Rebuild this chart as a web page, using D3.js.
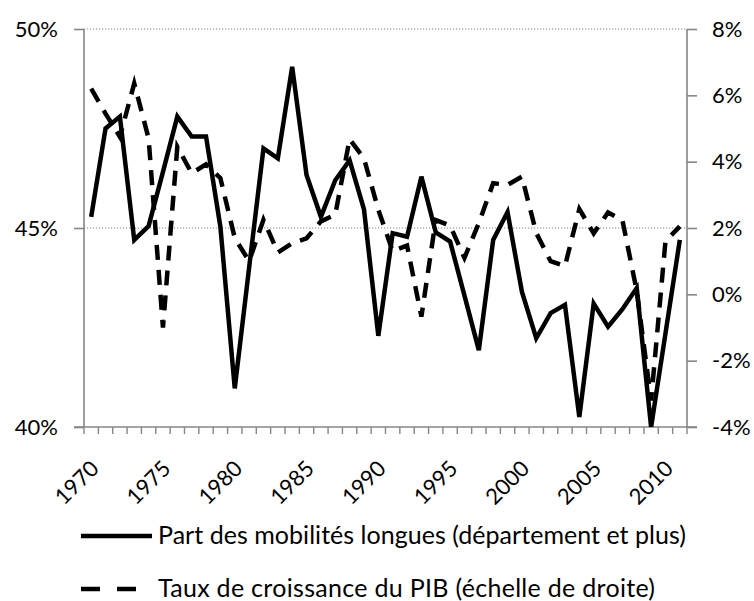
<!DOCTYPE html>
<html>
<head>
<meta charset="utf-8">
<script src="https://cdn.jsdelivr.net/npm/d3@7"></script>
<style>
  body { margin: 0; background: #fff; }
  text { font-family: Lato, "Open Sans", sans-serif; fill: #000; }
</style>
</head>
<body>
<div id="container"></div>
<script>
// years 1970 -> 2011
var years = d3.range(1970, 2012);

// part des mobilités longues (%), left axis
var partLongues = [
  45.28, 47.5, 47.8, 44.7, 45.05, 46.41, 47.8, 47.3, 47.3, 45.03,
  40.97, 44.0, 47.0, 46.75, 49.05, 46.33, 45.28, 46.2, 46.7, 45.47,
  42.29, 44.87, 44.78, 46.29, 44.89, 44.66, 43.3, 41.93, 44.7, 45.4,
  43.4, 42.23, 42.86, 43.07, 40.25, 43.1, 42.52, 42.96, 43.49, 40.0,
  42.35, 44.7
];

// taux de croissance du PIB (%), right axis
var croissancePib = [
  6.2, 5.45, 4.75, 6.36, 4.7, -1.0, 4.45, 3.65, 3.92, 3.5,
  1.7, 1.0, 2.25, 1.26, 1.54, 1.69, 2.2, 2.4, 4.68, 4.1,
  2.55, 1.3, 1.47, -0.67, 2.24, 2.07, 1.1, 2.15, 3.35, 3.3,
  3.55, 1.85, 1.0, 0.85, 2.57, 1.84, 2.47, 2.24, 0.1, -3.2,
  1.6, 2.05
];

var leftTicks = [40, 45, 50];
var rightTicks = [-4, -2, 0, 2, 4, 6, 8];
var labelYears = years.filter(function(y){ return y % 5 == 0; });

var legendLabels = [
  "Part des mobilités longues (département et plus)",
  "Taux de croissance du PIB (échelle de droite)"
];

var width = 754, height = 601;
// plot box (don't call it "top", window.top is taken)
var plotL = 84, plotR = 687, plotT = 29, plotB = 427;
var axisColor = "#868686";

var svg = d3.select("#container").append("svg")
  .attr("width", width)
  .attr("height", height);

var x = d3.scaleBand().domain(years).range([plotL, plotR]).padding(0);
var yLeft = d3.scaleLinear().domain([40, 50]).range([plotB, plotT]);
var yRight = d3.scaleLinear().domain([-4, 8]).range([plotB, plotT]);

function cx(d, i){ return x(years[i]) + x.bandwidth() / 2; }

// dotted gridlines (50% and 45%)
svg.append("g").selectAll("line")
  .data([45, 50])
  .enter().append("line")
  .attr("x1", plotL).attr("x2", plotR)
  .attr("y1", function(d){ return yLeft(d); })
  .attr("y2", function(d){ return yLeft(d); })
  .style("stroke", axisColor)
  .style("stroke-width", 1.2)
  .style("stroke-dasharray", "1.2,1.8");

// left axis
var gLeft = svg.append("g")
  .attr("transform", "translate(" + plotL + ",0)")
  .call(d3.axisLeft(yLeft).tickValues(leftTicks).tickSize(10).tickPadding(16)
    .tickFormat(function(d){ return d + "%"; }));

// right axis
var gRight = svg.append("g")
  .attr("transform", "translate(" + plotR + ",0)")
  .call(d3.axisRight(yRight).tickValues(rightTicks).tickSize(10).tickPadding(15)
    .tickFormat(function(d){ return d + "%"; }));

[gLeft, gRight].forEach(function(g){
  g.select(".domain").remove();
  g.selectAll(".tick line").style("stroke", axisColor).style("stroke-width", 1.6);
  g.selectAll(".tick text").style("font-size", "22px");
});

svg.append("line")
  .attr("x1", plotL).attr("x2", plotL).attr("y1", plotT).attr("y2", plotB)
  .style("stroke", axisColor).style("stroke-width", 1.6);
svg.append("line")
  .attr("x1", plotR).attr("x2", plotR).attr("y1", plotT).attr("y2", plotB)
  .style("stroke", axisColor).style("stroke-width", 1.6);

// bottom axis: ticks between categories
var boundaries = years.map(function(y){ return x(y); }).concat([plotR]);
svg.append("line")
  .attr("x1", plotL - 10).attr("x2", plotR + 10).attr("y1", plotB).attr("y2", plotB)
  .style("stroke", axisColor).style("stroke-width", 1.6);
svg.append("g").selectAll("line")
  .data(boundaries)
  .enter().append("line")
  .attr("x1", function(d){ return d; }).attr("x2", function(d){ return d; })
  .attr("y1", plotB).attr("y2", plotB + 7)
  .style("stroke", axisColor).style("stroke-width", 1.4);

var gBottom = svg.append("g")
  .attr("transform", "translate(0," + plotB + ")")
  .call(d3.axisBottom(x).tickValues(labelYears).tickSize(0).tickPadding(0));
gBottom.select(".domain").remove();
gBottom.selectAll(".tick text")
  .style("font-size", "22px")
  .style("text-anchor", "end")
  .attr("y", 0)
  .attr("dy", 0)
  .attr("transform", "translate(9,43) rotate(-45)");

// series lines
var lineLeft = d3.line()
  .x(cx)
  .y(function(d){ return yLeft(d); });
var lineRight = d3.line()
  .x(cx)
  .y(function(d){ return yRight(d); });

svg.append("defs").append("clipPath").attr("id", "plot")
  .append("rect").attr("x", plotL).attr("y", plotT - 3)
  .attr("width", plotR - plotL).attr("height", plotB - plotT + 3);

var plot = svg.append("g").attr("clip-path", "url(#plot)");

plot.append("path")
  .datum(croissancePib)
  .attr("d", lineRight)
  .style("fill", "none")
  .style("stroke", "#000")
  .style("stroke-width", 4.5)
  .style("stroke-dasharray", "15,10");

plot.append("path")
  .datum(partLongues)
  .attr("d", lineLeft)
  .style("fill", "none")
  .style("stroke", "#000")
  .style("stroke-width", 4.5)
  .style("stroke-linejoin", "miter");

// legend
var legend = svg.append("g");
var legendRows = [
  { y: 536, dash: null, x2: 152, tx: 158, len: 528 },
  { y: 589, dash: "19,17", x2: 136, tx: 158, len: 497 }
];
legendRows.forEach(function(r, i){
  legend.append("line")
    .attr("x1", 81).attr("x2", r.x2).attr("y1", r.y).attr("y2", r.y)
    .style("stroke", "#000").style("stroke-width", 4.5)
    .style("stroke-dasharray", r.dash);
  legend.append("text")
    .attr("x", r.tx).attr("y", r.y)
    .attr("dy", "0.32em")
    .attr("textLength", r.len)
    .attr("lengthAdjust", "spacing")
    .style("font-size", "25px")
    .text(legendLabels[i]);
});
</script>
</body>
</html>
